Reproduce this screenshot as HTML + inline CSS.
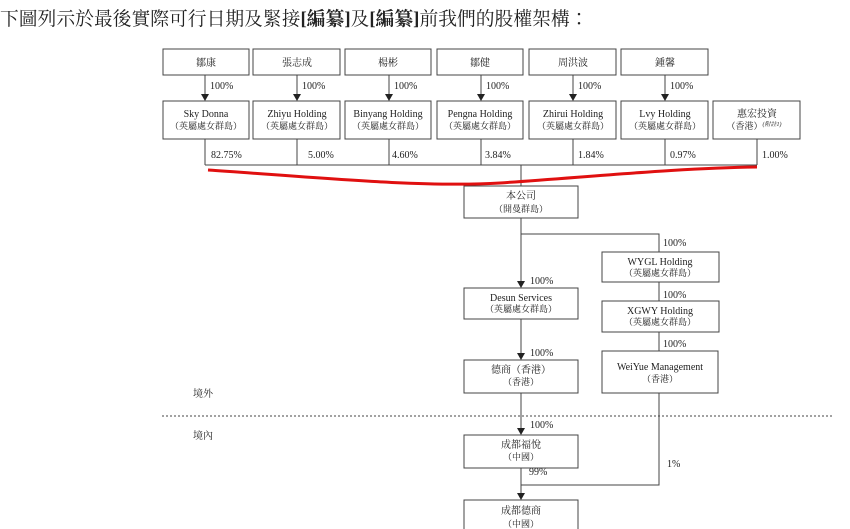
<!DOCTYPE html>
<html><head><meta charset="utf-8"><style>
body{margin:0;background:#fff;width:850px;height:529px;overflow:hidden}
svg{display:block}
text{font-family:"Liberation Serif","Noto Serif CJK SC",serif;fill:#222}
</style></head><body>
<svg width="850" height="529" viewBox="0 0 850 529" xmlns="http://www.w3.org/2000/svg">
<text x="0" y="25" font-size="18.8" style="font-family:'Liberation Serif','Noto Serif CJK TC',serif">下圖列示於最後實際可行日期及緊接<tspan font-weight="bold">[編纂]</tspan>及<tspan font-weight="bold">[編纂]</tspan>前我們的股權架構：</text>
<g fill="none" stroke="#444" stroke-width="1">
<rect x="163" y="49" width="86" height="26"/><rect x="253" y="49" width="87" height="26"/><rect x="345" y="49" width="86" height="26"/><rect x="437" y="49" width="86" height="26"/><rect x="529" y="49" width="87" height="26"/><rect x="621" y="49" width="87" height="26"/>
<rect x="163" y="101" width="86" height="38"/><rect x="253" y="101" width="87" height="38"/><rect x="345" y="101" width="86" height="38"/><rect x="437" y="101" width="86" height="38"/><rect x="529" y="101" width="87" height="38"/><rect x="621" y="101" width="87" height="38"/><rect x="713" y="101" width="87" height="38"/>
<rect x="464" y="186" width="114" height="32"/>
<rect x="602" y="252" width="117" height="30"/><rect x="602" y="301" width="117" height="31"/><rect x="602" y="351" width="116" height="42"/>
<rect x="464" y="288" width="114" height="31"/><rect x="464" y="360" width="114" height="33"/>
<rect x="464" y="435" width="114" height="33"/><rect x="464" y="500" width="114" height="33"/>
<path d="M205,75V95 M297,75V95 M389,75V95 M481,75V95 M573,75V95 M665,75V95"/>
<path d="M205,139V165 M297,139V165 M389,139V165 M481,139V165 M573,139V165 M665,139V165 M757,139V165 M205,165H757 M521,165V186"/>
<path d="M521,218V282 M521,319V354 M521,393V429 M521,468V494"/>
<path d="M521,234H659V252 M659,282V301 M659,332V351 M659,393V485H521 M521,533V529"/>
<path d="M162,416H833" stroke-dasharray="2,2"/>
</g>
<g fill="#222">
<path d="M201,94H209L205,101Z"/><path d="M293,94H301L297,101Z"/><path d="M385,94H393L389,101Z"/><path d="M477,94H485L481,101Z"/><path d="M569,94H577L573,101Z"/><path d="M661,94H669L665,101Z"/>
<path d="M517,281H525L521,288Z"/><path d="M517,353H525L521,360Z"/><path d="M517,428H525L521,435Z"/><path d="M517,493H525L521,500Z"/>
</g>
<path d="M208,170 C300,176 420,188 500,183 C600,176 680,168 757,167" fill="none" stroke="#e01010" stroke-width="3"/>
<g font-size="10" text-anchor="middle">
<text x="206" y="66">鄒康</text><text x="297" y="66">張志成</text><text x="388" y="66">楊彬</text><text x="480" y="66">鄒健</text><text x="573" y="66">周洪波</text><text x="665" y="66">鍾馨</text>
<text x="206" y="117">Sky Donna</text><text x="297" y="117">Zhiyu Holding</text><text x="388" y="117">Binyang Holding</text><text x="480" y="117">Pengna Holding</text><text x="573" y="117">Zhirui Holding</text><text x="665" y="117">Lvy Holding</text><text x="757" y="117">惠宏投資</text>
<g font-size="9"><text x="206" y="129">（英屬處女群島）</text><text x="297" y="129">（英屬處女群島）</text><text x="388" y="129">（英屬處女群島）</text><text x="480" y="129">（英屬處女群島）</text><text x="573" y="129">（英屬處女群島）</text><text x="665" y="129">（英屬處女群島）</text><text x="754" y="129">（香港）<tspan font-size="6" font-style="italic" dy="-3">(附註1)</tspan></text></g>
<text x="521" y="199">本公司</text><text x="521" y="212" font-size="9">（開曼群島）</text>
<text x="660" y="265">WYGL Holding</text><text x="660" y="276" font-size="9">（英屬處女群島）</text>
<text x="660" y="314">XGWY Holding</text><text x="660" y="325" font-size="9">（英屬處女群島）</text>
<text x="660" y="370">WeiYue Management</text><text x="660" y="382" font-size="9">（香港）</text>
<text x="521" y="301">Desun Services</text><text x="521" y="312" font-size="9">（英屬處女群島）</text>
<text x="521" y="373">德商（香港）</text><text x="521" y="385" font-size="9">（香港）</text>
<text x="521" y="448">成都福悅</text><text x="521" y="460" font-size="9">（中國）</text>
<text x="521" y="514">成都德商</text><text x="521" y="527" font-size="9">（中國）</text>
</g>
<g font-size="10">
<text x="210" y="89">100%</text><text x="302" y="89">100%</text><text x="394" y="89">100%</text><text x="486" y="89">100%</text><text x="578" y="89">100%</text><text x="670" y="89">100%</text>
<text x="211" y="158">82.75%</text><text x="308" y="158">5.00%</text><text x="392" y="158">4.60%</text><text x="485" y="158">3.84%</text><text x="578" y="158">1.84%</text><text x="670" y="158">0.97%</text><text x="762" y="158">1.00%</text>
<text x="663" y="246">100%</text><text x="663" y="298">100%</text><text x="663" y="347">100%</text>
<text x="530" y="284">100%</text><text x="530" y="356">100%</text><text x="530" y="428">100%</text>
<text x="529" y="475">99%</text><text x="667" y="467">1%</text>
<text x="193" y="397">境外</text><text x="193" y="439">境內</text>
</g>
</svg>
</body></html>
